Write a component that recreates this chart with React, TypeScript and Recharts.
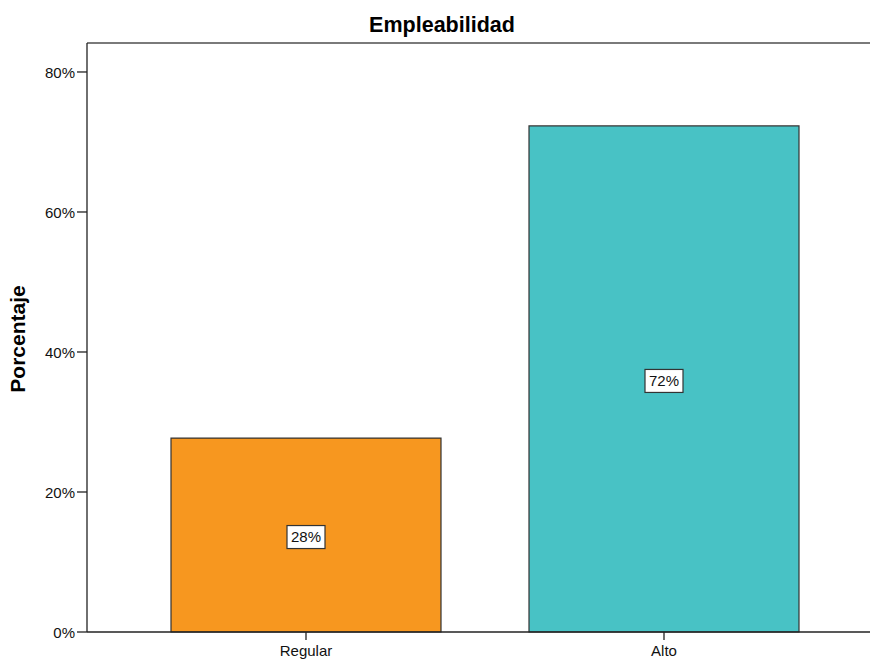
import { Bar, BarChart, Cell, LabelList, ReferenceLine, XAxis, YAxis } from 'recharts';

const categories = ['Regular', 'Alto'];
const percentages = [27.7, 72.3];
const barColors = ['#F7971F', '#48C2C5'];
const yTicks = [0, 20, 40, 60, 80];
const Y_MAX = 84.14;

const data = categories.map((name, i) => ({ name, value: percentages[i] }));

const FONT = '"Liberation Sans", Arial, sans-serif';

function ValueBox(props: any) {
  const { x, y, width, height, value } = props;
  const cx = x + width / 2;
  const cy = y + height / 2 + 2;
  const text = `${Math.round(value)}%`;
  const w = 38;
  const h = 23;
  return (
    <g>
      <rect x={cx - w / 2} y={cy - h / 2} width={w} height={h} fill="#fff" stroke="#333" strokeWidth={1.2} />
      <text x={cx} y={cy} dy="0.36em" textAnchor="middle" fontSize={15} fontFamily={FONT} fill="#111">
        {text}
      </text>
    </g>
  );
}

function YLabel() {
  return (
    <text
      x={25}
      y={339}
      transform="rotate(-90 25 339)"
      textAnchor="middle"
      fontSize={21}
      fontWeight="bold"
      fontFamily={FONT}
      fill="#000"
    >
      Porcentaje
    </text>
  );
}

export default function App() {
  return (
    <div
      style={{
        position: 'fixed',
        left: 0,
        top: 0,
        width: 870,
        height: 659,
        overflow: 'hidden',
        background: '#fff',
      }}
    >
      <div
        style={{
          position: 'absolute',
          left: 0,
          top: 11,
          width: 884,
          textAlign: 'center',
          fontFamily: FONT,
          fontWeight: 'bold',
          fontSize: 21.5,
          color: '#000',
          lineHeight: '28px',
        }}
      >
        Empleabilidad
      </div>
      <BarChart
        width={890}
        height={659}
        data={data}
        margin={{ top: 43, right: 7, bottom: 0, left: 0 }}
        barCategoryGap={44}
        style={{ fontFamily: FONT }}
      >
        <ReferenceLine y={Y_MAX} stroke="#7a7a7a" strokeWidth={2} />
        <XAxis
          dataKey="name"
          height={27}
          padding={{ left: 40, right: 40 }}
          axisLine={{ stroke: '#222', strokeWidth: 1.3 }}
          tickLine={{ stroke: '#222', strokeWidth: 1.3 }}
          tickSize={8}
          tickMargin={5}
          tick={{ fill: '#111', fontSize: 15, fontFamily: FONT }}
        />
        <YAxis
          width={87}
          domain={[0, Y_MAX]}
          ticks={yTicks}
          tickFormatter={(v: number) => `${v}%`}
          axisLine={{ stroke: '#222', strokeWidth: 1.3 }}
          tickLine={{ stroke: '#222', strokeWidth: 1.3 }}
          tickSize={10}
          tickMargin={2}
          tick={{ fill: '#111', fontSize: 15, fontFamily: FONT, dy: 1 }}
          label={<YLabel />}
        />
        <Bar dataKey="value" stroke="#333" strokeWidth={1.2} isAnimationActive={false}>
          {data.map((d, i) => (
            <Cell key={d.name} fill={barColors[i]} />
          ))}
          <LabelList dataKey="value" content={<ValueBox />} />
        </Bar>
      </BarChart>
    </div>
  );
}
